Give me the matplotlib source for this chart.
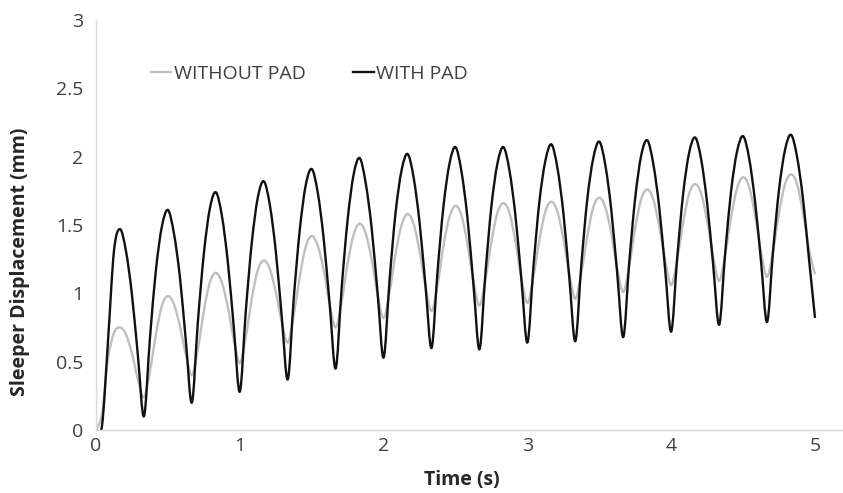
import matplotlib
matplotlib.use("Agg")
import matplotlib.pyplot as plt
from matplotlib.path import Path
from matplotlib.patches import PathPatch
from matplotlib.lines import Line2D
import numpy as np

# time axis: samples every 1/24 s from 0 to 5 s
time_s = [k / 24 for k in range(121)]

with_pad = [
    0.00, 0.03, 0.65, 1.31, 1.47,
    1.31, 0.99, 0.54, 0.10,
    0.67, 1.17, 1.49, 1.61,
    1.44, 1.12, 0.65, 0.20,
    0.79, 1.29, 1.62, 1.74,
    1.57, 1.23, 0.75, 0.28,
    0.87, 1.37, 1.70, 1.82,
    1.65, 1.31, 0.83, 0.37,
    0.96, 1.46, 1.79, 1.91,
    1.74, 1.40, 0.92, 0.45,
    1.04, 1.54, 1.87, 1.99,
    1.81, 1.48, 1.00, 0.53,
    1.10, 1.59, 1.90, 2.02,
    1.85, 1.52, 1.05, 0.60,
    1.16, 1.64, 1.95, 2.07,
    1.89, 1.55, 1.06, 0.59,
    1.15, 1.64, 1.95, 2.07,
    1.90, 1.57, 1.10, 0.64,
    1.19, 1.67, 1.97, 2.09,
    1.92, 1.59, 1.11, 0.65,
    1.21, 1.69, 1.99, 2.11,
    1.94, 1.61, 1.14, 0.68,
    1.23, 1.70, 2.01, 2.12,
    1.95, 1.63, 1.17, 0.72,
    1.26, 1.73, 2.03, 2.14,
    1.98, 1.66, 1.21, 0.77,
    1.29, 1.75, 2.04, 2.15,
    1.99, 1.67, 1.23, 0.79,
    1.31, 1.76, 2.05, 2.16,
    2.00, 1.69, 1.25, 0.82,
]

without_pad = [
    0.00, 0.12, 0.52, 0.71, 0.75,
    0.70, 0.56, 0.37, 0.24,
    0.43, 0.70, 0.91, 0.98,
    0.92, 0.76, 0.55, 0.40,
    0.59, 0.87, 1.08, 1.15,
    1.08, 0.90, 0.66, 0.49,
    0.68, 0.96, 1.17, 1.24,
    1.18, 1.01, 0.79, 0.64,
    0.84, 1.12, 1.34, 1.42,
    1.35, 1.17, 0.92, 0.75,
    0.94, 1.22, 1.43, 1.51,
    1.44, 1.25, 0.99, 0.82,
    1.01, 1.29, 1.50, 1.58,
    1.51, 1.31, 1.05, 0.87,
    1.06, 1.35, 1.56, 1.64,
    1.57, 1.36, 1.09, 0.91,
    1.10, 1.38, 1.59, 1.66,
    1.59, 1.38, 1.11, 0.93,
    1.12, 1.39, 1.60, 1.67,
    1.60, 1.40, 1.14, 0.96,
    1.15, 1.42, 1.63, 1.70,
    1.63, 1.44, 1.18, 1.01,
    1.20, 1.48, 1.69, 1.76,
    1.69, 1.49, 1.24, 1.06,
    1.25, 1.52, 1.73, 1.80,
    1.73, 1.53, 1.27, 1.09,
    1.28, 1.56, 1.77, 1.85,
    1.78, 1.57, 1.30, 1.12,
    1.31, 1.59, 1.80, 1.87,
    1.80, 1.59, 1.32, 1.14,
]

series_names = ["WITHOUT PAD", "WITH PAD"]
x_ticks = [0, 1, 2, 3, 4, 5]
y_ticks = [0, 0.5, 1, 1.5, 2, 2.5, 3]
y_tick_labels = ["0", "0.5", "1", "1.5", "2", "2.5", "3"]

plt.rcParams['font.family'] = ['Open Sans', 'DejaVu Sans']


def smooth_line_path(x, y):
    """Excel-style smoothed line: cubic Bezier segments through every data point."""
    x = np.asarray(x, float)
    y = np.asarray(y, float)
    n = len(x)
    verts = [(x[0], y[0])]
    codes = [Path.MOVETO]
    for i in range(n - 1):
        a = i - 1 if i > 0 else i
        d = i + 2 if i + 2 < n else i + 1
        c1 = (x[i] + (x[i + 1] - x[a]) / 6, y[i] + (y[i + 1] - y[a]) / 6)
        c2 = (x[i + 1] - (x[d] - x[i]) / 6, y[i + 1] - (y[d] - y[i]) / 6)
        verts += [c1, c2, (x[i + 1], y[i + 1])]
        codes += [Path.CURVE4] * 3
    return Path(verts, codes)


GRAY = "#bfbfbf"
BLACK = "#111111"
LW = 1.7

fig = plt.figure(figsize=(8.43, 4.93), dpi=100)
ax = fig.add_axes([96 / 843, 63 / 493, 747 / 843, 410 / 493])

ax.add_patch(PathPatch(smooth_line_path(time_s, without_pad), fill=False,
                       edgecolor=GRAY, lw=LW, joinstyle="round", capstyle="butt"))
ax.add_patch(PathPatch(smooth_line_path(time_s, with_pad), fill=False,
                       edgecolor=BLACK, lw=LW, joinstyle="round", capstyle="butt"))

ax.set_xlim(0, 747 / 143.8)
ax.set_ylim(0, 3)
ax.set_xticks(x_ticks)
ax.set_xticklabels([str(v) for v in x_ticks])
ax.set_yticks(y_ticks)
ax.set_yticklabels(y_tick_labels)
ax.tick_params(length=0, labelsize=14, colors="#404040")
ax.tick_params(axis='x', pad=5)
ax.tick_params(axis='y', pad=9)

for s in ["top", "right"]:
    ax.spines[s].set_visible(False)
for s in ["left", "bottom"]:
    ax.spines[s].set_color("#d9d9d9")
    ax.spines[s].set_linewidth(1.0)

fig.text(462 / 843, 1 - 480 / 493, "Time (s)", fontsize=14, fontweight="bold",
         color="#262626", ha="center", va="center")
fig.text(20 / 843, 1 - 262 / 493, "Sleeper Displacement (mm)", fontsize=14,
         fontweight="bold", color="#262626", ha="center", va="center", rotation=90)

handles = [Line2D([], [], color=GRAY, lw=LW), Line2D([], [], color=BLACK, lw=LW)]
leg = ax.legend(handles, series_names, loc="center left",
                bbox_to_anchor=(151 / 843, 1 - 74 / 493),
                bbox_transform=fig.transFigure, ncol=2, frameon=False,
                handlelength=1.05, handletextpad=0.12, columnspacing=2.45,
                fontsize=14, borderaxespad=0, borderpad=0)
for t in leg.get_texts():
    t.set_color("#404040")

fig.savefig("out.png", dpi=100, facecolor="white")
